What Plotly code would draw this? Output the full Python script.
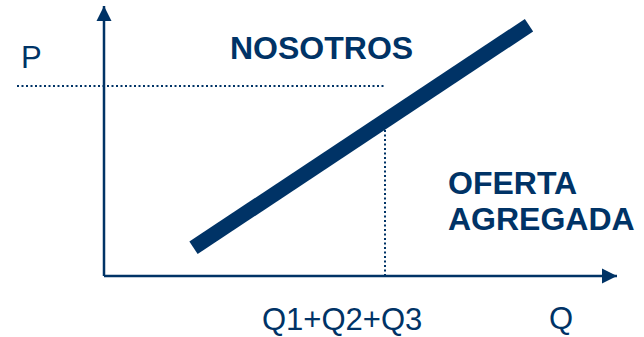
import numpy as np
import plotly.graph_objects as go

NAVY = "#003366"
FONT = "Liberation Sans, Arial, sans-serif"

# Aggregate supply curve (quantity, price) end points
supply_q = [1.79, 8.50]
supply_p = [1.13, 10.03]

# Market price level and total quantity supplied
price_level = 7.6
q_total = 5.62
price_line_start = -1.74

# Axis extents (arrow tips)
q_axis_max = 10.26
p_axis_max = 10.8

# Text labels
price_label = "P"
quantity_label = "Q"
total_label = "Q1+Q2+Q3"
firm_label = "NOSOTROS"
supply_label = ["OFERTA", "AGREGADA"]

p_at_total = float(np.interp(q_total, supply_q, supply_p))

fig = go.Figure()

# Dotted guide lines
fig.add_trace(go.Scatter(
    x=[price_line_start, q_total], y=[price_level, price_level],
    mode="lines", line=dict(color=NAVY, width=2, dash="2px,2.5px"),
    hoverinfo="skip"))
fig.add_trace(go.Scatter(
    x=[q_total, q_total], y=[0, p_at_total],
    mode="lines", line=dict(color=NAVY, width=2, dash="2px,2.5px"),
    hoverinfo="skip"))

# Axes with arrowheads
fig.add_trace(go.Scatter(
    x=[0, 0], y=[0, p_axis_max], mode="lines",
    line=dict(color=NAVY, width=2.5), hoverinfo="skip"))
fig.add_trace(go.Scatter(
    x=[0, q_axis_max], y=[0, 0], mode="lines",
    line=dict(color=NAVY, width=2.5), hoverinfo="skip"))
fig.add_trace(go.Scatter(
    x=[0], y=[p_axis_max], mode="markers",
    marker=dict(symbol="arrow-up", size=15, color=NAVY, line=dict(width=0)),
    hoverinfo="skip"))
fig.add_trace(go.Scatter(
    x=[q_axis_max], y=[0], mode="markers",
    marker=dict(symbol="arrow-right", size=15, color=NAVY, line=dict(width=0)),
    hoverinfo="skip"))

# Supply curve
fig.add_trace(go.Scatter(
    x=supply_q, y=supply_p, mode="lines",
    line=dict(color=NAVY, width=15), hoverinfo="skip"))

# Pixel-to-data helpers for label placement
def qx(px):
    return (px - 104) / 50

def py(pxy):
    return (276 - pxy) / 25

reg = dict(family=FONT, size=31, color=NAVY)
bold = dict(family=FONT, size=32, color=NAVY, weight="bold")

fig.add_annotation(x=qx(31), y=py(57), text=price_label, showarrow=False,
                   font=reg, xanchor="center", yanchor="middle")
fig.add_annotation(x=qx(321), y=py(48), text=firm_label, showarrow=False,
                   font=bold, xanchor="center", yanchor="middle")
fig.add_annotation(x=qx(446), y=py(183), text=supply_label[0], showarrow=False,
                   font=bold, xanchor="left", yanchor="middle")
fig.add_annotation(x=qx(446), y=py(219), text=supply_label[1], showarrow=False,
                   font=bold, xanchor="left", yanchor="middle")
fig.add_annotation(x=qx(342), y=py(319), text=total_label, showarrow=False,
                   font=reg, xanchor="center", yanchor="middle")
fig.add_annotation(x=qx(561), y=py(318), text=quantity_label, showarrow=False,
                   font=reg, xanchor="center", yanchor="middle")

fig.update_layout(
    width=644, height=337, autosize=False,
    margin=dict(l=0, r=0, t=0, b=0),
    paper_bgcolor="white", plot_bgcolor="white",
    showlegend=False,
    xaxis=dict(range=[qx(0), qx(644)], visible=False, fixedrange=True),
    yaxis=dict(range=[py(337), py(0)], visible=False, fixedrange=True),
)

fig.write_html("out.html")
